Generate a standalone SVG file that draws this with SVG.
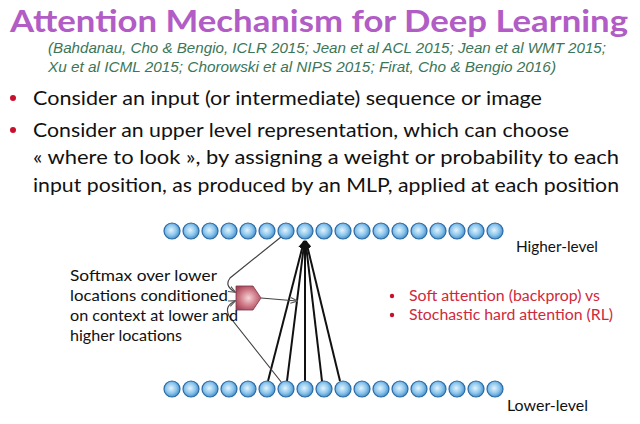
<svg xmlns="http://www.w3.org/2000/svg" width="640" height="424" viewBox="0 0 640 424">
<defs>
<radialGradient id="ball" cx="0.45" cy="0.45" r="0.6">
<stop offset="0" stop-color="#e4f3fc"/>
<stop offset="0.55" stop-color="#8cc6ec"/>
<stop offset="1" stop-color="#3a86c6"/>
</radialGradient>
<radialGradient id="pent" cx="0.5" cy="0.5" r="0.6">
<stop offset="0" stop-color="#f6d4d8"/>
<stop offset="0.6" stop-color="#cc7482"/>
<stop offset="1" stop-color="#a24458"/>
</radialGradient>
<marker id="ah" viewBox="0 0 10 10" refX="9" refY="5" markerWidth="4" markerHeight="4" orient="auto">
<path d="M0,0 L10,5 L0,10 z" fill="#111"/>
</marker>
<marker id="ahg" viewBox="0 0 10 10" refX="9" refY="5" markerWidth="6" markerHeight="6" orient="auto">
<path d="M0,1 L10,5 L0,9" fill="none" stroke="#555" stroke-width="1.5"/>
</marker>
<g id="c"><circle r="8" fill="url(#ball)" stroke="#2c6aa4" stroke-width="1.2"/></g>
</defs>
<style>
.title{font-family:"Lato","DejaVu Sans",sans-serif;font-weight:bold;font-size:30px;fill:#b25cc6}
.cite{font-family:"Liberation Sans",sans-serif;font-style:italic;font-size:15px;fill:#3a7657}
.body{font-family:"Lato","Liberation Sans",sans-serif;font-size:20px;fill:#111}
.lab{font-family:"Lato","Liberation Sans",sans-serif;font-size:16px;fill:#111}
.red{font-family:"Lato","Liberation Sans",sans-serif;font-size:15.5px;fill:#d0283c}
.dot{fill:#c8102e}
.k{stroke:#111;stroke-width:2;fill:none}
.g{stroke:#444;stroke-width:1.2;fill:none}
</style>
<rect width="640" height="424" fill="#fff"/>
<g id="title">
<text class="title" x="10" y="32" textLength="618" lengthAdjust="spacingAndGlyphs">Attention Mechanism for Deep Learning</text>
<text class="cite" x="48" y="53" textLength="558" lengthAdjust="spacingAndGlyphs">(Bahdanau, Cho &amp; Bengio, ICLR 2015; Jean et al ACL 2015; Jean et al WMT 2015;</text>
<text class="cite" x="48" y="72" textLength="508" lengthAdjust="spacingAndGlyphs">Xu et al ICML 2015; Chorowski et al NIPS 2015; Firat, Cho &amp; Bengio 2016)</text>
</g>
<g id="bullets">
<circle class="dot" cx="13" cy="98" r="3"/>
<circle class="dot" cx="13" cy="130" r="3"/>
<text class="body" x="33" y="105" textLength="509" lengthAdjust="spacingAndGlyphs">Consider an input (or intermediate) sequence or image</text>
<text class="body" x="33" y="137" textLength="536" lengthAdjust="spacingAndGlyphs">Consider an upper level representation, which can choose</text>
<text class="body" x="33" y="164" textLength="586" lengthAdjust="spacingAndGlyphs">« where to look », by assigning a weight or probability to each</text>
<text class="body" x="33" y="192" textLength="586" lengthAdjust="spacingAndGlyphs">input position, as produced by an MLP, applied at each position</text>
</g>
<g id="connectors">
<line class="k" x1="268" y1="381" x2="304" y2="241" marker-end="url(#ah)"/>
<line class="k" x1="287" y1="381" x2="304.5" y2="241" marker-end="url(#ah)"/>
<line class="k" x1="305" y1="381" x2="305" y2="241" marker-end="url(#ah)"/>
<line class="k" x1="322" y1="381" x2="305.5" y2="241" marker-end="url(#ah)"/>
<line class="k" x1="340" y1="381" x2="306" y2="241" marker-end="url(#ah)"/>
<path class="g" d="M281,237 L230,278 Q224,286 235,292" marker-end="url(#ahg)"/>
<path class="g" d="M282,383 L229,316 Q224,306 235,301" marker-end="url(#ahg)"/>
<line class="g" x1="261" y1="298" x2="297" y2="301" marker-end="url(#ahg)"/>
</g>
<g id="higher">
<use href="#c" x="172" y="231"/><use href="#c" x="191" y="231"/><use href="#c" x="210" y="231"/><use href="#c" x="229" y="231"/><use href="#c" x="248" y="231"/><use href="#c" x="267" y="231"/><use href="#c" x="286" y="231"/><use href="#c" x="305" y="231"/><use href="#c" x="324" y="231"/><use href="#c" x="343" y="231"/><use href="#c" x="362" y="231"/><use href="#c" x="381" y="231"/><use href="#c" x="400" y="231"/><use href="#c" x="419" y="231"/><use href="#c" x="438" y="231"/><use href="#c" x="457" y="231"/><use href="#c" x="476" y="231"/><use href="#c" x="495" y="231"/>
<text class="lab" x="516" y="252" textLength="82" lengthAdjust="spacingAndGlyphs">Higher-level</text>
</g>
<g id="lower">
<use href="#c" x="172" y="389"/><use href="#c" x="191" y="389"/><use href="#c" x="210" y="389"/><use href="#c" x="229" y="389"/><use href="#c" x="248" y="389"/><use href="#c" x="267" y="389"/><use href="#c" x="286" y="389"/><use href="#c" x="305" y="389"/><use href="#c" x="324" y="389"/><use href="#c" x="343" y="389"/><use href="#c" x="362" y="389"/><use href="#c" x="381" y="389"/><use href="#c" x="400" y="389"/><use href="#c" x="419" y="389"/><use href="#c" x="438" y="389"/><use href="#c" x="457" y="389"/><use href="#c" x="476" y="389"/><use href="#c" x="495" y="389"/>
<text class="lab" x="507" y="411" textLength="81" lengthAdjust="spacingAndGlyphs">Lower-level</text>
</g>
<g id="softmax">
<polygon points="236,286 253,286 261,298 253,310 236,310" fill="url(#pent)" stroke="#7a3444" stroke-width="0.8"/>
</g>
<g id="softmax-label">
<text class="lab" x="70" y="281" textLength="147" lengthAdjust="spacingAndGlyphs">Softmax over lower</text>
<text class="lab" x="70" y="301" textLength="158" lengthAdjust="spacingAndGlyphs">locations conditioned</text>
<text class="lab" x="70" y="321" textLength="168" lengthAdjust="spacingAndGlyphs">on context at lower and</text>
<text class="lab" x="70" y="341" textLength="112" lengthAdjust="spacingAndGlyphs">higher locations</text>
</g>
<g id="notes">
<circle class="dot" cx="392" cy="296" r="2.2"/>
<circle class="dot" cx="392" cy="315" r="2.2"/>
<text class="red" x="409" y="301" textLength="191" lengthAdjust="spacingAndGlyphs">Soft attention (backprop) vs</text>
<text class="red" x="409" y="320" textLength="204" lengthAdjust="spacingAndGlyphs">Stochastic hard attention (RL)</text>
</g>
</svg>
